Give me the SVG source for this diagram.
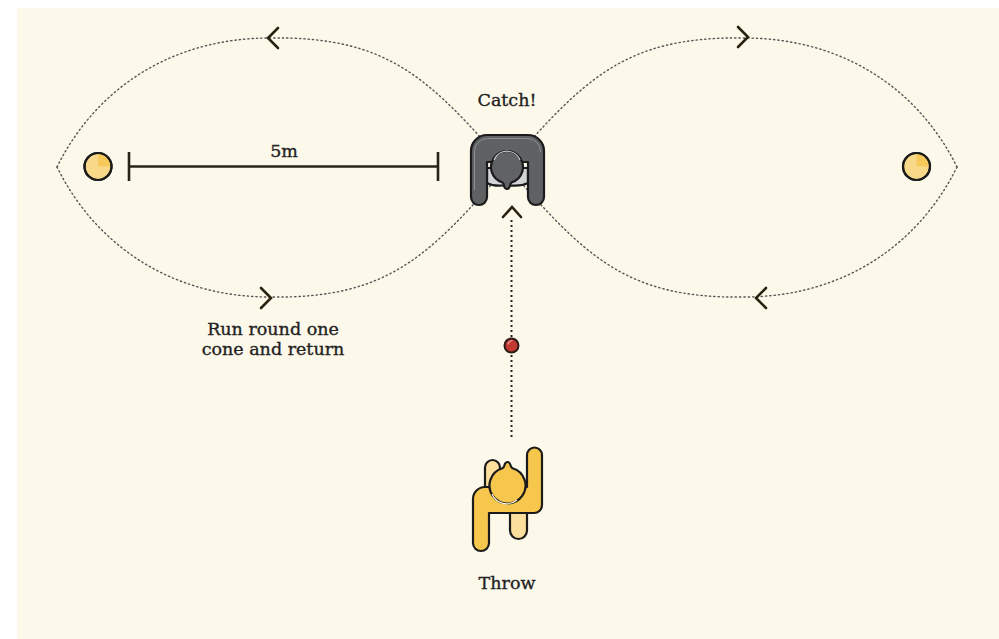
<svg xmlns="http://www.w3.org/2000/svg" width="999" height="639" viewBox="0 0 999 639">
  <defs>
    <style>
      .label { font-family: "DejaVu Serif", "Liberation Serif", serif; font-size: 17.5px; fill: #222; text-anchor: middle; stroke: #222; stroke-width: 0.35; }
      .route { fill: none; stroke: #555; stroke-width: 1.4; stroke-dasharray: 1.3 3; stroke-linecap: round; }
      .pass { fill: none; stroke: #222; stroke-width: 2; stroke-dasharray: 2 3; }
      .chev { fill: none; stroke: #2a2210; stroke-width: 2.6; stroke-linecap: round; stroke-linejoin: miter; }
      .ink { stroke: #1b1b1b; stroke-width: 2.2; stroke-linejoin: round; }
      .measure { stroke: #2a2418; stroke-width: 2.6; fill: none; }
    </style>
  </defs>

  <!-- pitch -->
  <rect x="17" y="8" width="982" height="631" fill="#fcf8ea"/>

  <!-- running route and throw line -->
  <g id="connectors">
    <!-- left loop -->
    <path class="route" d="M57,167 C95,90 170,38 270,38 C390,36 430,80 507,167"/>
    <path class="route" d="M57,167 C95,244 170,297 270,297 C390,299 430,254 507,167"/>
    <!-- right loop -->
    <path class="route" d="M957,167 C919,90 844,38 744,38 C624,36 584,80 507,167"/>
    <path class="route" d="M957,167 C919,244 844,297 744,297 C624,299 584,254 507,167"/>
    <!-- direction chevrons -->
    <polyline class="chev" points="278,28 268,38 278,48"/>
    <polyline class="chev" points="738,27 748,37 738,47"/>
    <polyline class="chev" points="261,288 271,298 261,308"/>
    <polyline class="chev" points="766,288 756,298 766,308"/>
    <!-- throw line -->
    <line class="pass" x1="511.5" y1="220" x2="511.5" y2="440"/>
    <polyline class="chev" points="503,217 512,207 521,217"/>
  </g>

  <!-- cones -->
  <g id="cone-left">
    <circle cx="98" cy="166.5" r="13.5" fill="#f8d98a" class="ink"/>
    <path d="M98,166.5 L98,154 A12.5,12.5 0 0 1 110.5,166.5 Z" fill="#f6c95a"/>
    <circle cx="98" cy="166.5" r="13.5" fill="none" class="ink"/>
  </g>
  <g id="cone-right">
    <circle cx="916.5" cy="166.5" r="13.5" fill="#f8d98a" class="ink"/>
    <path d="M916.5,166.5 L916.5,154 A12.5,12.5 0 0 1 929,166.5 Z" fill="#f6c95a"/>
    <circle cx="916.5" cy="166.5" r="13.5" fill="none" class="ink"/>
  </g>

  <!-- distance marker -->
  <g id="distance">
    <line class="measure" x1="129" y1="166.5" x2="438" y2="166.5"/>
    <line class="measure" x1="129" y1="152" x2="129" y2="181"/>
    <line class="measure" x1="438" y1="152" x2="438" y2="181"/>
    <text class="label" x="284" y="157">5m</text>
  </g>

  <!-- catcher, seen from above, facing the thrower -->
  <g id="catcher">
    <path d="M487,168 L528,168 L528,183 Q520,187 507,185 Q494,187 487,183 Z" fill="#d3d4d5" class="ink"/>
    <path d="M471,197 L471,151 A16,16 0 0 1 487,135 L528,135 A16,16 0 0 1 544,151 L544,197 A8,8 0 0 1 528,197 L528,162 L487,162 L487,197 A8,8 0 0 1 471,197 Z" fill="#5f6163" class="ink"/>
    <path d="M474.5,190 L474.5,152 A13,13 0 0 1 487.5,138.5 L527.5,138.5 A13,13 0 0 1 540.5,152" fill="none" stroke="#8d8f91" stroke-width="1"/>
    <path d="M502,182.2 A16,16 0 1 1 512,182.2 Q510,183.5 510,186 Q509,189 507,189 Q505,189 504,186 Q504,183.5 502,182.2 Z" fill="#606265" class="ink"/>
    <path d="M494,160 A14,14 0 0 1 520,160" fill="none" stroke="#c9cacb" stroke-width="1.2"/>
    <text class="label" x="507" y="106">Catch!</text>
  </g>

  <!-- ball -->
  <g id="ball">
    <circle cx="511.5" cy="345.5" r="7" fill="#c2392f" stroke="#2a1a18" stroke-width="2"/>
    <path d="M508,344 Q509,341 512,340.5" fill="none" stroke="#f2a39b" stroke-width="1.2" stroke-linecap="round"/>
  </g>

  <!-- thrower, arm raised -->
  <g id="thrower">
    <rect x="510" y="498" width="17" height="41" rx="8.5" fill="#fcdf9c" class="ink"/>
    <rect x="485" y="460" width="15" height="36" rx="7.5" fill="#fcdf9c" class="ink"/>
    <path d="M473,543 L473,499 A12,12 0 0 1 485,487 L527,487 L527,455 A7.5,7.5 0 0 1 542,455 L542,505 A8,8 0 0 1 534,513 L489,513 L489,543 A8,8 0 0 1 473,543 Z" fill="#f6c74c" class="ink"/>
    <path d="M502.5,468.2 A18,18 0 1 0 512.5,468.2 Q510.5,467 510.5,465 Q509.5,462 507.5,462 Q505.5,462 504.5,465 Q504.5,467 502.5,468.2 Z" fill="#f6c74c" class="ink"/>
    <path d="M492,494 A16,16 0 0 0 517,500" fill="none" stroke="#fff6d8" stroke-width="1.2"/>
    <text class="label" x="507" y="589">Throw</text>
  </g>

  <!-- instruction -->
  <g id="instruction">
    <text class="label" x="273" y="335">Run round one</text>
    <text class="label" x="273" y="355">cone and return</text>
  </g>
</svg>
